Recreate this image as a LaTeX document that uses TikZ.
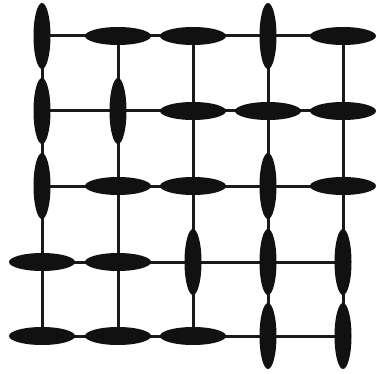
\documentclass[tikz,border=0pt]{standalone}
\usetikzlibrary{shapes.geometric,backgrounds}
\definecolor{ink}{HTML}{111111}
\definecolor{wire}{HTML}{1a1a1a}
\tikzset{
  hcell/.style={ellipse, fill=ink, draw=none, inner sep=0pt, minimum width=66pt, minimum height=18pt},
  vcell/.style={ellipse, fill=ink, draw=none, inner sep=0pt, minimum width=17pt, minimum height=66pt},
  wireline/.style={draw=wire, line width=3pt}
}
\begin{document}
\begin{tikzpicture}[x=1pt,y=-1pt]
\useasboundingbox (0,0) rectangle (377,374);
% column x positions and row y positions
\def\xa{42}\def\xb{118}\def\xc{193}\def\xd{268}\def\xe{343}
\def\ya{36}\def\yb{111}\def\yc{186}\def\yd{262}\def\ye{336}
% row 1
\node[vcell] (n11) at (\xa,\ya) {};
\node[hcell] (n12) at (\xb,\ya) {};
\node[hcell] (n13) at (\xc,\ya) {};
\node[vcell] (n14) at (\xd,\ya) {};
\node[hcell] (n15) at (\xe,\ya) {};
% row 2
\node[vcell] (n21) at (\xa,\yb) {};
\node[vcell] (n22) at (\xb,\yb) {};
\node[hcell] (n23) at (\xc,\yb) {};
\node[hcell] (n24) at (\xd,\yb) {};
\node[hcell] (n25) at (\xe,\yb) {};
% row 3
\node[vcell] (n31) at (\xa,\yc) {};
\node[hcell] (n32) at (\xb,\yc) {};
\node[hcell] (n33) at (\xc,\yc) {};
\node[vcell] (n34) at (\xd,\yc) {};
\node[hcell] (n35) at (\xe,\yc) {};
% row 4
\node[hcell] (n41) at (\xa,\yd) {};
\node[hcell] (n42) at (\xb,\yd) {};
\node[vcell] (n43) at (\xc,\yd) {};
\node[vcell] (n44) at (\xd,\yd) {};
\node[vcell] (n45) at (\xe,\yd) {};
% row 5
\node[hcell] (n51) at (\xa,\ye) {};
\node[hcell] (n52) at (\xb,\ye) {};
\node[hcell] (n53) at (\xc,\ye) {};
\node[vcell] (n54) at (\xd,\ye) {};
\node[vcell] (n55) at (\xe,\ye) {};
\begin{scope}[on background layer]
  \foreach \r in {1,...,5} {
    \draw[wireline] (n\r1.center) -- (n\r5.center);
  }
  \foreach \c in {1,...,5} {
    \draw[wireline] (n1\c.center) -- (n5\c.center);
  }
\end{scope}
\end{tikzpicture}
\end{document}
